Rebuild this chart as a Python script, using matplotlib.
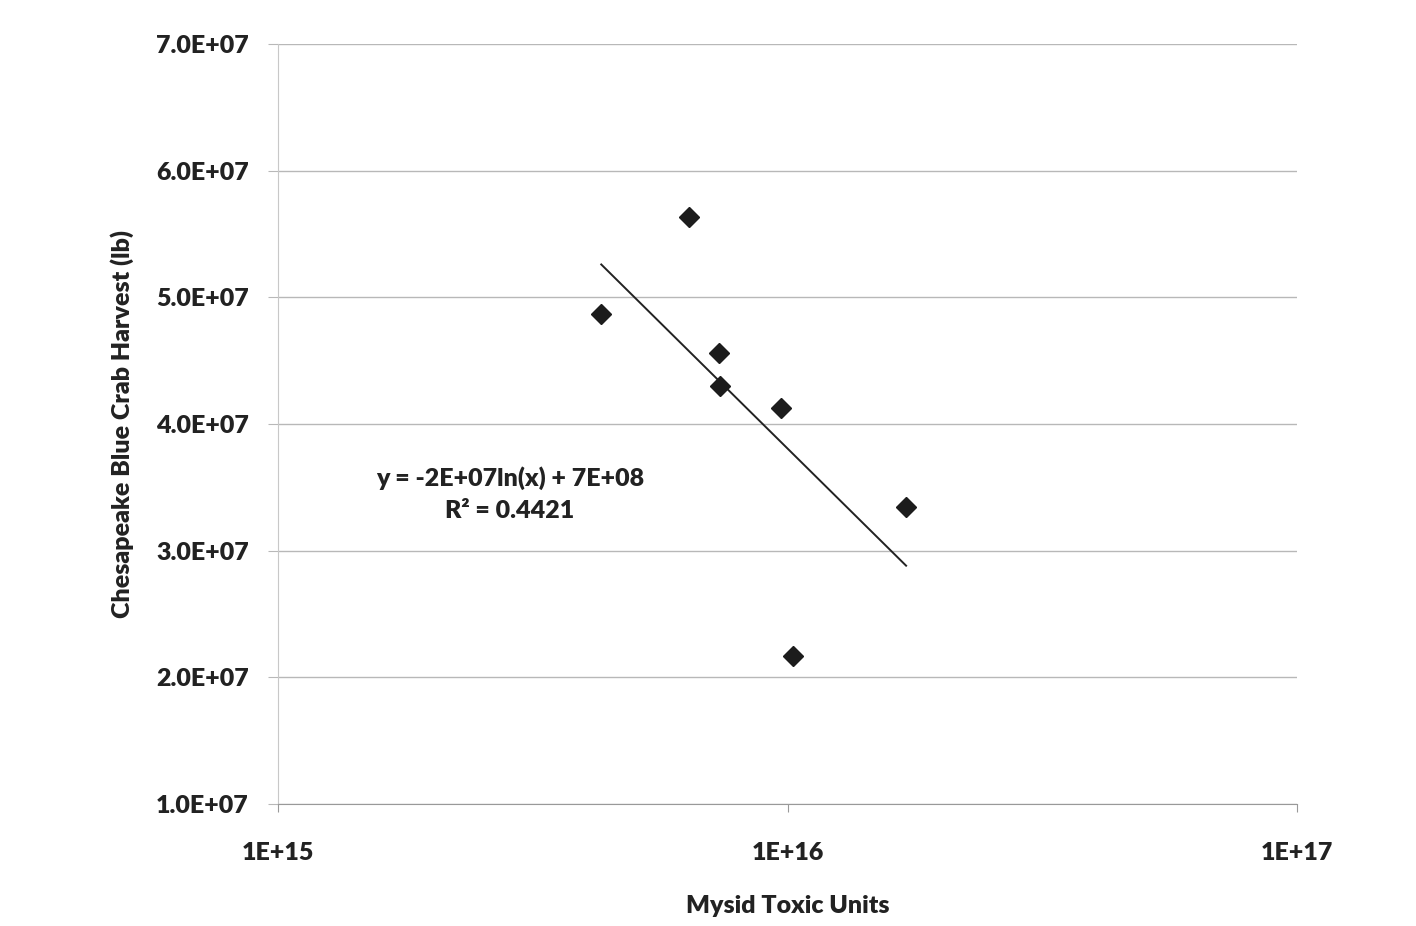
import matplotlib.pyplot as plt
import numpy as np

plt.rcParams['font.family'] = ['Lato', 'DejaVu Sans']

# mysid toxic units vs blue crab harvest (lb)
toxic_units = [6.41e15, 4.31e15, 7.35e15, 7.37e15, 9.71e15, 1.709e16, 1.025e16]
crab_harvest = [5.635e7, 4.869e7, 4.561e7, 4.301e7, 4.127e7, 3.346e7, 2.170e7]

y_ticks = [1e7, 2e7, 3e7, 4e7, 5e7, 6e7, 7e7]
y_labels = ['1.0E+07', '2.0E+07', '3.0E+07', '4.0E+07', '5.0E+07', '6.0E+07', '7.0E+07']
x_ticks = [1e15, 1e16, 1e17]
x_labels = ['1E+15', '1E+16', '1E+17']

W, H = 1416, 926
fig = plt.figure(figsize=(W / 100, H / 100), dpi=100)
ax = fig.add_axes([0.1963, 0.1317, 0.7197, 0.8208])

ax.set_xscale('log')
ax.set_xlim(1e15, 1e17)
ax.set_ylim(1e7, 7e7)

# log trendline fitted on the points, drawn over the data range
x = np.array(toxic_units)
y = np.array(crab_harvest)
a, b = np.polyfit(np.log(x), y, 1)
xs = np.linspace(x.min(), x.max(), 50)
ax.plot(xs, a * np.log(xs) + b, color='#222222', lw=1.4, zorder=2)

ax.plot(toxic_units, crab_harvest, linestyle='none', marker='D', markersize=10,
        color='#1c1c1c', zorder=3)

ax.set_yticks(y_ticks)
ax.set_yticklabels(y_labels, fontsize=18, fontweight='heavy', color='#222222')
ax.set_xticks(x_ticks)
ax.set_xticklabels(x_labels, fontsize=18, fontweight='heavy', color='#222222')
ax.xaxis.set_minor_locator(plt.NullLocator())

ax.grid(axis='y', color='#b8b8b8', lw=1)
ax.set_axisbelow(True)
ax.tick_params(axis='y', length=7, color='#b8b8b8', pad=14)
ax.tick_params(axis='x', length=6, color='#999999', pad=21)

for s in ['top', 'right']:
    ax.spines[s].set_visible(False)
ax.spines['left'].set_color('#c8c8c8')
ax.spines['bottom'].set_color('#999999')

ax.set_ylabel('Chesapeake Blue Crab Harvest (lb)', fontsize=18, fontweight='heavy',
              color='#222222', labelpad=16)
ax.set_xlabel('Mysid Toxic Units', fontsize=18, fontweight='heavy', color='#222222',
              labelpad=23)

fig.text(510 / W, 1 - 478 / H, 'y = -2E+07ln(x) + 7E+08', fontsize=18,
         fontweight='heavy', color='#222222', ha='center', va='center')
fig.text(510 / W, 1 - 511 / H, 'R² = 0.4421', fontsize=18,
         fontweight='heavy', color='#222222', ha='center', va='center')

fig.savefig('out.png', dpi=100)
